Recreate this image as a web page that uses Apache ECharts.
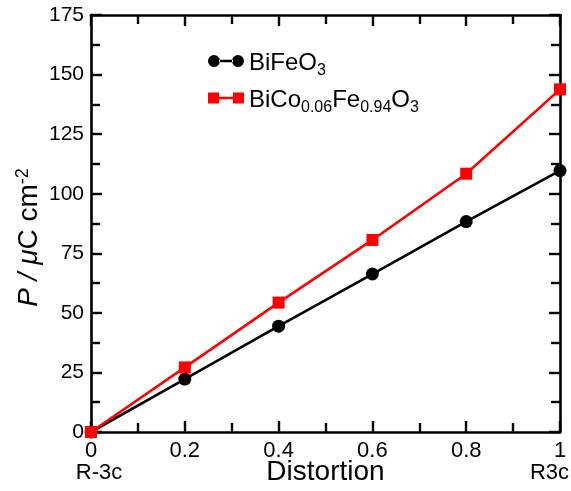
<!DOCTYPE html>
<html>
<head>
<meta charset="utf-8">
<script src="https://cdn.jsdelivr.net/npm/echarts@6/dist/echarts.min.js"></script>
<style>html,body{margin:0;padding:0;background:#fff}#c{width:571px;height:491px}</style>
</head>
<body>
<div id="c"></div>
<script>
const distortion = [0, 0.2, 0.4, 0.6, 0.8, 1.0];
const bifeo3 = [0, 22.2, 44.4, 66.3, 88.3, 109.7];
const bicofeo3 = [0, 27.1, 54.3, 80.6, 108.4, 143.8];
const seriesNames = ['BiFeO3', 'BiCo0.06Fe0.94O3'];
const xEndLabels = {0: 'R-3c', 1: 'R3c'};

const chart = echarts.init(document.getElementById('c'), null, {renderer: 'canvas'});
const pairs = (ys) => distortion.map((x, i) => [x, ys[i]]);

const axisCommon = {
  axisLine: {show: true, onZero: false, lineStyle: {color: '#000', width: 2.6}},
  axisTick: {show: true, inside: true, length: 11, lineStyle: {color: '#000', width: 2.4}},
  minorTick: {show: true, splitNumber: 2, length: 9, lineStyle: {color: '#000', width: 2.4}},
  splitLine: {show: false},
  minorSplitLine: {show: false}
};

const legendRich = {
  n: {fontSize: 24, lineHeight: 24, padding: [7, 0, 3, 0], color: '#000', fontFamily: 'Liberation Sans'},
  s: {fontSize: 16, lineHeight: 14, padding: [20, 0, 0, 0], color: '#000', fontFamily: 'Liberation Sans'}
};
function legendFmt(name) {
  if (name === seriesNames[0]) return '{n|BiFeO}{s|3}';
  return '{n|BiCo}{s|0.06}{n|Fe}{s|0.94}{n|O}{s|3}';
}

chart.setOption({
  animation: false,
  textStyle: {fontFamily: 'Liberation Sans'},
  grid: {left: 91, right: 11, top: 15, bottom: 59, containLabel: false, outerBoundsMode: 'none'},
  legend: {
    orient: 'vertical', left: 208, top: 43, padding: 0, itemGap: 1,
    itemWidth: 36, itemHeight: 12, selectedMode: false,
    formatter: legendFmt,
    textStyle: {rich: legendRich},
    data: [
      {name: seriesNames[0], icon: 'path://M0,6a6,6 0 1,0 12,0a6,6 0 1,0 -12,0zM24,6a6,6 0 1,0 12,0a6,6 0 1,0 -12,0zM11,4.7h14v2.6h-14z'},
      {name: seriesNames[1], icon: 'path://M0,0.5h11v11h-11zM25,0.5h11v11h-11zM10,4.7h16v2.6h-16z'}
    ]
  },
  xAxis: [
    Object.assign({
      type: 'value', min: 0, max: 1, interval: 0.2, position: 'bottom',
      name: 'Distortion', nameLocation: 'middle', nameGap: 26, nameMoveOverlap: false,
      nameTextStyle: {fontSize: 28, color: '#000', fontFamily: 'Liberation Sans'},
      axisLabel: {
        color: '#000', fontSize: 22, margin: 8, lineHeight: 22,
        formatter: function (v) {
          const t = String(+v.toFixed(1));
          if (v === 0) return '{a|' + t + '}\n{l|' + xEndLabels[0] + '}';
          if (v === 1) return '{a|' + t + '}\n{r|' + xEndLabels[1] + '}';
          return '{a|' + t + '}';
        },
        rich: {
          a: {fontSize: 22, lineHeight: 22, color: '#000', fontFamily: 'Liberation Sans'},
          l: {fontSize: 22, lineHeight: 22, color: '#000', fontFamily: 'Liberation Sans', padding: [0, 0, 0, 16]},
          r: {fontSize: 22, lineHeight: 22, color: '#000', fontFamily: 'Liberation Sans', padding: [0, 21, 0, 0]}
        }
      }
    }, axisCommon),
    Object.assign({
      type: 'value', min: 0, max: 1, interval: 0.2, position: 'top',
      axisLabel: {show: false}
    }, axisCommon)
  ],
  yAxis: [
    Object.assign({
      type: 'value', min: 0, max: 175, interval: 25, position: 'left',
      name: '{i|P / μ}{n|C cm}{s|-2}', nameLocation: 'middle', nameGap: 50, nameRotate: 90, nameMoveOverlap: false,
      nameTextStyle: {
        padding: [0, 28, 0, 0],
        rich: {
          i: {fontSize: 28, lineHeight: 30, padding: [6, 0, 0, 0], fontStyle: 'italic', color: '#000', fontFamily: 'Liberation Sans'},
          n: {fontSize: 28, lineHeight: 30, padding: [6, 0, 0, 0], color: '#000', fontFamily: 'Liberation Sans'},
          s: {fontSize: 18, lineHeight: 18, padding: [6, 0, 12, 0], color: '#000', fontFamily: 'Liberation Sans'}
        }
      },
      axisLabel: {color: '#000', fontSize: 21, margin: 7, fontFamily: 'Liberation Sans'}
    }, axisCommon),
    Object.assign({
      type: 'value', min: 0, max: 175, interval: 25, position: 'right',
      axisLabel: {show: false}
    }, axisCommon)
  ],
  series: [
    {
      name: seriesNames[0], type: 'line', xAxisIndex: 0, yAxisIndex: 0,
      data: pairs(bifeo3), symbol: 'circle', symbolSize: 13,
      itemStyle: {color: '#000'}, lineStyle: {color: '#000', width: 2.6}
    },
    {
      name: seriesNames[1], type: 'line', xAxisIndex: 0, yAxisIndex: 0,
      data: pairs(bicofeo3), symbol: 'rect', symbolSize: 12,
      itemStyle: {color: '#ff0000'}, lineStyle: {color: '#ff0000', width: 2.6}
    }
  ]
});
</script>
</body>
</html>
